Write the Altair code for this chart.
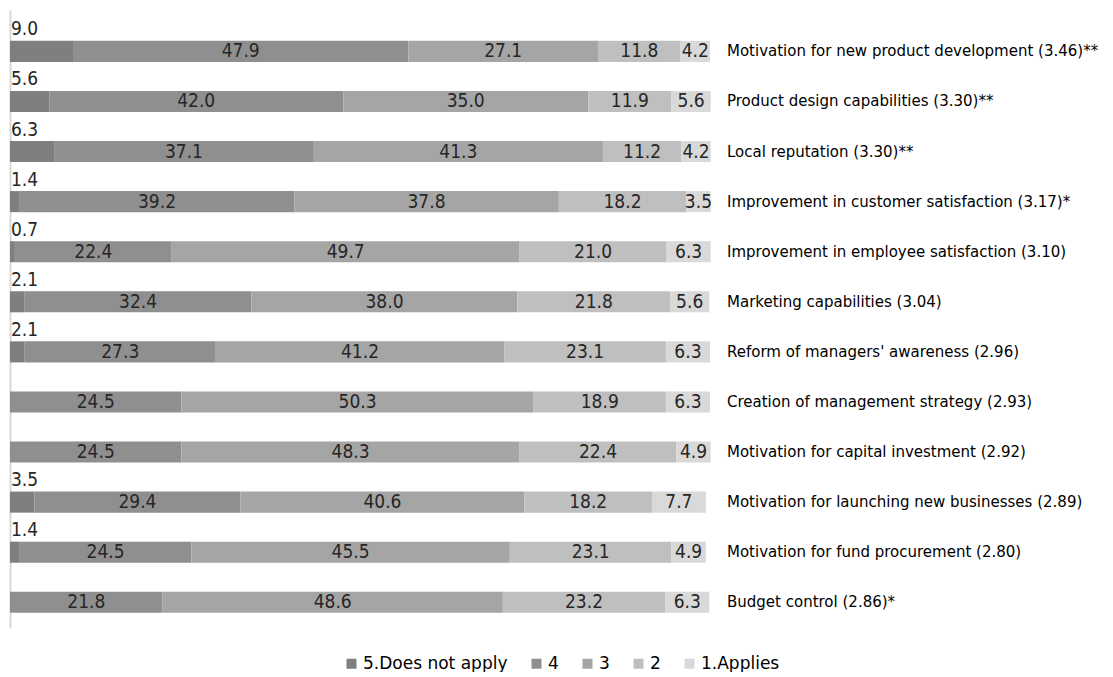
import altair as alt
import pandas as pd

items = [
    "Motivation for new product development",
    "Product design capabilities",
    "Local reputation",
    "Improvement in customer satisfaction",
    "Improvement in employee satisfaction",
    "Marketing capabilities",
    "Reform of managers' awareness",
    "Creation of management strategy",
    "Motivation for capital investment",
    "Motivation for launching new businesses",
    "Motivation for fund procurement",
    "Budget control",
]
row_labels = [
    "Motivation for new product development (3.46)**",
    "Product design capabilities (3.30)**",
    "Local reputation (3.30)**",
    "Improvement in customer satisfaction (3.17)*",
    "Improvement in employee satisfaction (3.10)",
    "Marketing capabilities (3.04)",
    "Reform of managers' awareness (2.96)",
    "Creation of management strategy (2.93)",
    "Motivation for capital investment (2.92)",
    "Motivation for launching new businesses (2.89)",
    "Motivation for fund procurement (2.80)",
    "Budget control (2.86)*",
]
categories = ["5.Does not apply", "4", "3", "2", "1.Applies"]
v5 = [9.0, 5.6, 6.3, 1.4, 0.7, 2.1, 2.1, 0.0, 0.0, 3.5, 1.4, 0.0]
v4 = [47.9, 42.0, 37.1, 39.2, 22.4, 32.4, 27.3, 24.5, 24.5, 29.4, 24.5, 21.8]
v3 = [27.1, 35.0, 41.3, 37.8, 49.7, 38.0, 41.2, 50.3, 48.3, 40.6, 45.5, 48.6]
v2 = [11.8, 11.9, 11.2, 18.2, 21.0, 21.8, 23.1, 18.9, 22.4, 18.2, 23.1, 23.2]
v1 = [4.2, 5.6, 4.2, 3.5, 6.3, 5.6, 6.3, 6.3, 4.9, 7.7, 4.9, 6.3]
colors = ["#7f7f7f", "#8f8f8f", "#a5a5a5", "#bfbfbf", "#d9d9d9"]

series = [v5, v4, v3, v2, v1]
rows = []
for ci, (cat, vals) in enumerate(zip(categories, series)):
    for item, v in zip(items, vals):
        rows.append({"item": item, "cat": cat, "rank": ci, "value": v})
df = pd.DataFrame(rows)
lab_df = pd.DataFrame({"item": items, "label": row_labels})

VAL_FONT = "Liberation Sans Narrow, DejaVu Sans Condensed, Roboto Condensed, Roboto"

y_enc = alt.Y(
    "item:N",
    sort=items,
    scale=alt.Scale(paddingInner=0.58, paddingOuter=0.46, align=0.67),
    axis=alt.Axis(labels=False, ticks=False, title=None, grid=False,
                  domainColor="#d9d9d9", domainWidth=2),
)
x_scale = alt.Scale(domain=[0, 100], nice=False, zero=True)

base = alt.Chart(df).transform_stack(
    stack="value", groupby=["item"], as_=["x0", "x1"],
    sort=[alt.SortField("rank", order="ascending")],
).transform_calculate(mid="(datum.x0 + datum.x1) / 2")

bars = base.mark_bar().encode(
    y=y_enc,
    x=alt.X("x0:Q", scale=x_scale, axis=None),
    x2="x1:Q",
    color=alt.Color(
        "cat:N",
        scale=alt.Scale(domain=categories, range=colors),
        legend=alt.Legend(
            orient="none", legendX=333, legendY=645, direction="horizontal",
            title=None, symbolType="square", symbolSize=100,
            symbolStrokeWidth=0, labelFont="DejaVu Sans", labelFontSize=17,
            labelColor="#000000", columnPadding=20, labelOffset=3,
        ),
    ),
)

inner = base.transform_filter("datum.rank > 0").mark_text(
    font=VAL_FONT, fontSize=19, color="#262626",
    align="center", baseline="middle",
).encode(
    y=alt.Y("item:N", sort=items),
    x=alt.X("mid:Q", scale=x_scale, axis=None),
    text=alt.Text("value:Q", format=".1f"),
)

top = base.transform_filter("datum.rank == 0 && datum.value > 0").mark_text(
    font=VAL_FONT, fontSize=19, color="#262626",
    align="left", baseline="middle", dx=1, dy=-22,
).encode(
    y=alt.Y("item:N", sort=items),
    x=alt.X("x0:Q", scale=x_scale, axis=None),
    text=alt.Text("value:Q", format=".1f"),
)

names = alt.Chart(lab_df).mark_text(
    font="DejaVu Sans", fontSize=15, color="#000000",
    align="left", baseline="middle", dx=17,
).encode(
    y=alt.Y("item:N", sort=items),
    x=alt.datum(100, scale=x_scale),
    text="label:N",
)

chart = alt.layer(bars, inner, top, names).properties(
    width=700, height=618,
    padding={"left": 2, "top": 2, "right": 0, "bottom": 0},
).configure_view(strokeWidth=0)

chart.save("out.html", embed_options={"renderer": "svg", "actions": False})
